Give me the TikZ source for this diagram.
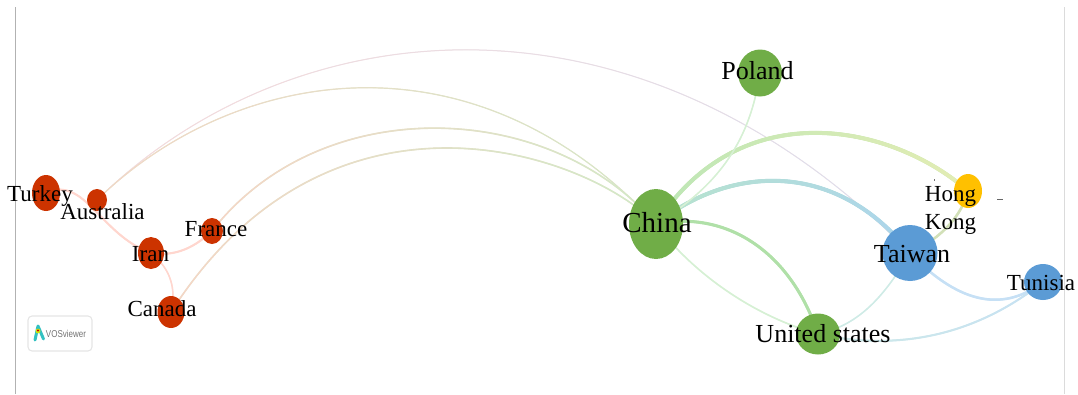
\documentclass[tikz,border=0pt]{standalone}
\usepackage{fontspec}
\setmainfont{Liberation Serif}
\newfontfamily\logofont{Liberation Sans}
\usetikzlibrary{shapes.geometric,decorations.markings,backgrounds}
\definecolor{cred}{HTML}{CC3300}
\definecolor{cgreen}{HTML}{70AD47}
\definecolor{cblue}{HTML}{5B9BD5}
\definecolor{cyellow}{HTML}{FFC000}
\definecolor{epink}{HTML}{FFD6CE}
\definecolor{etop}{HTML}{FFDAD4}
\definecolor{etopb}{HTML}{D4E0F4}
\definecolor{epinkb}{HTML}{FAD3C6}
\definecolor{elgreen}{HTML}{CDEDC8}
\definecolor{egreen}{HTML}{B0E0A8}
\definecolor{ethick}{HTML}{BBE6B6}
\definecolor{eyell}{HTML}{E4EDB4}
\definecolor{eaqua}{HTML}{B8E4CC}
\definecolor{esky}{HTML}{ABD4EE}
\definecolor{epale}{HTML}{D6F0D4}
\definecolor{eolive}{HTML}{D2E0B8}
\definecolor{ebl}{HTML}{C6E0F5}
\definecolor{ete}{HTML}{CFEBE6}
\newcommand{\gedge}[7]{%
  \draw[line width=#7pt,color=#5!50!#6,postaction={decorate,decoration={markings,
    mark=between positions 0 and 1 step 1pt with {%
      \pgfkeysgetvalue{/pgf/decoration/mark info/distance from start}{\dfs}%
      \pgfmathsetmacro{\pct}{max(0,min(100,100-(\dfs/\pgfdecoratedpathlength)*100))}%
      \fill[color=#5!\pct!#6] (0,0) circle[radius=#7/2];}}}]
    (#1.center) .. controls (#2) and (#3) .. (#4.center);}
\tikzset{
  cname/.style={anchor=base,inner sep=0pt,text=black},
  big/.style={font=\fontsize{26}{26}\selectfont},
  small/.style={font=\fontsize{23}{23}\selectfont},
  frameline/.style={line width=1pt}
}
\begin{document}
\begin{tikzpicture}[x=1pt,y=-1pt]
\useasboundingbox (0,0) rectangle (1078,394);
\draw[frameline,color=black!30] (15,7) -- (15,394);
\draw[frameline,color=black!14] (1064,7) -- (1064,394);
% nodes
\node[ellipse,fill=cgreen,inner sep=0pt,minimum width=54pt,minimum height=70pt] (china) at (656,224) {};
\node[ellipse,fill=cgreen,inner sep=0pt,minimum width=44pt,minimum height=47pt] (poland) at (760,73) {};
\node[ellipse,fill=cyellow,inner sep=0pt,minimum width=28pt,minimum height=34pt] (hk) at (968,191) {};
\node[ellipse,fill=cblue,inner sep=0pt,minimum width=55pt,minimum height=56pt] (taiwan) at (910,253) {};
\node[ellipse,fill=cblue,inner sep=0pt,minimum width=38pt,minimum height=36pt] (tunisia) at (1043,282) {};
\node[ellipse,fill=cgreen,inner sep=0pt,minimum width=44pt,minimum height=41pt] (us) at (818,334) {};
\node[ellipse,fill=cred,inner sep=0pt,minimum width=28pt,minimum height=36pt] (turkey) at (46,193) {};
\node[ellipse,fill=cred,inner sep=0pt,minimum width=20pt,minimum height=22pt] (australia) at (97,200) {};
\node[ellipse,fill=cred,inner sep=0pt,minimum width=26pt,minimum height=32pt] (iran) at (151,253) {};
\node[ellipse,fill=cred,inner sep=0pt,minimum width=22pt,minimum height=26pt] (france) at (212,231) {};
\node[ellipse,fill=cred,inner sep=0pt,minimum width=27pt,minimum height=32pt] (canada) at (171,312) {};
% edges
\begin{scope}[on background layer]
\gedge{australia}{290,10}{635,-28}{taiwan}{etop}{etopb}{1}
\gedge{australia}{230,70}{470,23}{china}{epinkb}{elgreen}{1.2}
\gedge{france}{320,92}{548,98}{china}{epinkb}{elgreen}{1.6}
\gedge{canada}{330,64}{586,152}{china}{epinkb}{elgreen}{1.6}
\gedge{china}{740,92}{892,124}{hk}{ethick}{eyell}{4}
\gedge{china}{730,165}{836,159}{taiwan}{eaqua}{esky}{4}
\gedge{china}{725,210}{790,250}{us}{egreen}{egreen}{3}
\gedge{china}{690,270}{750,315}{us}{epale}{epale}{1.6}
\gedge{poland}{750,140}{720,185}{china}{epale}{epale}{1.5}
\gedge{hk}{962,215}{942,238}{taiwan}{eolive}{eolive}{2.5}
\gedge{taiwan}{955,300}{1000,315}{tunisia}{ebl}{ebl}{2.5}
\gedge{us}{890,350}{970,340}{tunisia}{ete}{ebl}{2}
\gedge{us}{860,325}{885,295}{taiwan}{ete}{ete}{1.5}
\gedge{turkey}{85,175}{100,235}{iran}{epink}{epink}{2}
\gedge{iran}{170,256}{190,252}{france}{epink}{epink}{2}
\gedge{iran}{172,270}{176,290}{canada}{epink}{epink}{1.5}
\end{scope}
% labels
\node[cname,font=\fontsize{29}{29}\selectfont] (lchina) at (657,232) {China};
\node[cname,big] (lpoland) at (757.5,79) {Poland};
\node[cname,big] (ltaiwan) at (912,262) {Taiwan};
\node[cname,big] (lus) at (823,342) {United states};
\node[cname,small] (ltunisia) at (1041,290) {Tunisia};
\node[inner sep=0pt,text=black,align=left,font=\fontsize{23}{28}\selectfont] (lhk) at (950.5,210.5) {Hong\\Kong};
\node[cname,small] (lturkey) at (40,201) {Turkey};
\node[cname,small] (laustralia) at (102.5,219) {Australia};
\node[cname,small] (liran) at (150.5,261) {Iran};
\node[cname,small] (lfrance) at (216,236) {France};
\node[cname,small] (lcanada) at (162,316) {Canada};
% logo
\node[draw=black!10,line width=1.1pt,rounded corners=4pt,minimum width=64pt,minimum height=35pt,inner sep=0pt] (logo) at (60,333.5) {};
\node[inner sep=0pt,text=black!55,font=\logofont\fontsize{10}{10}\selectfont] (logotext) at (66,334) {\scalebox{.8}[1]{VOSviewer}};
\draw[color=teal!60!cyan,line width=3pt,line cap=round,line join=round,opacity=.8] (35,340) -- (38,326) -- (43.5,339);
\fill[color=yellow!80!green] (38,331) circle[radius=2.4];
\fill[color=red!80!black] (38,330.5) circle[radius=1.1];
% specks
\fill[color=black!60] (997,199) rectangle (1003,200.2);
\fill[color=black!55] (933.5,179) rectangle (934.5,180.5);
\end{tikzpicture}
\end{document}
